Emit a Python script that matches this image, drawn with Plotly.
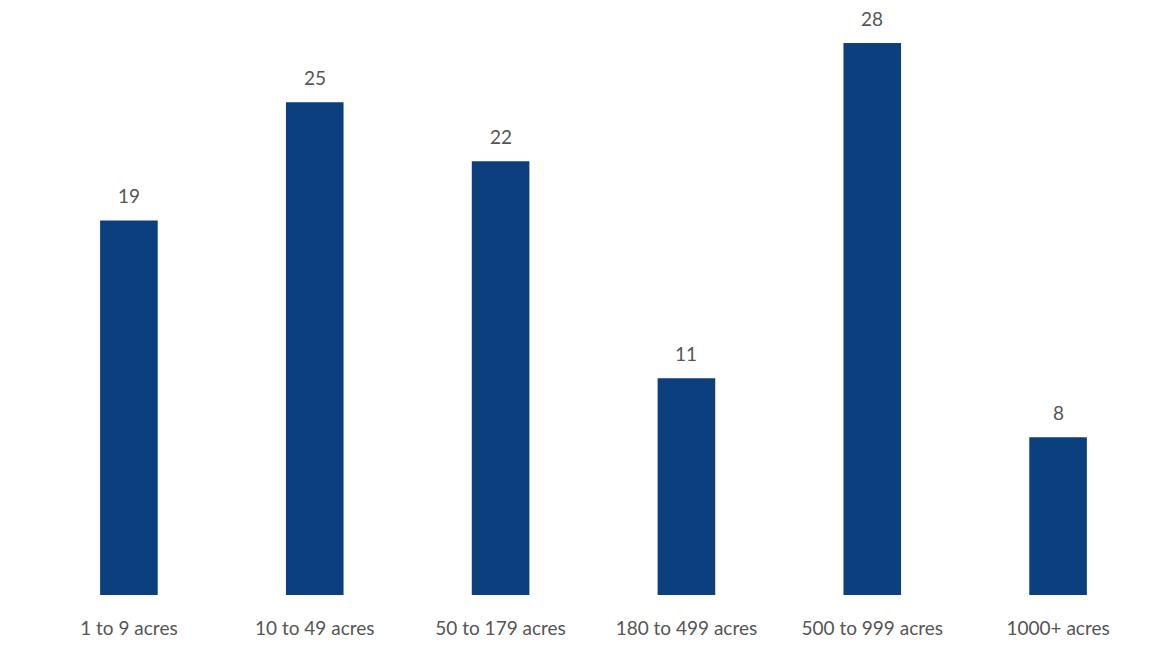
import plotly.graph_objects as go

categories = ["1 to 9 acres", "10 to 49 acres", "50 to 179 acres", "180 to 499 acres", "500 to 999 acres", "1000+ acres"]
values = [19, 25, 22, 11, 28, 8]

bar_color = "#0b3f7e"
text_color = "#555555"

fig = go.Figure(go.Bar(x=categories, y=values, marker_color=bar_color, marker_line_width=0))

for c, v in zip(categories, values):
    fig.add_annotation(x=c, y=v, text=str(v), showarrow=False, yanchor="bottom", yshift=11,
                       font=dict(family="Lato", size=19, color=text_color))

fig.update_layout(
    width=1169, height=661,
    margin=dict(l=28, r=26, t=0, b=74),
    paper_bgcolor="white", plot_bgcolor="white",
    bargap=0.69,
    showlegend=False,
    font=dict(family="Lato", size=19, color=text_color),
)
fig.update_xaxes(showgrid=False, showline=False, ticks="outside", ticklen=16, tickcolor="rgba(0,0,0,0)",
                 tickfont=dict(family="Lato", size=19, color=text_color))
fig.update_yaxes(range=[0, 29.78], visible=False, showgrid=False)

fig.write_html("out.html")
